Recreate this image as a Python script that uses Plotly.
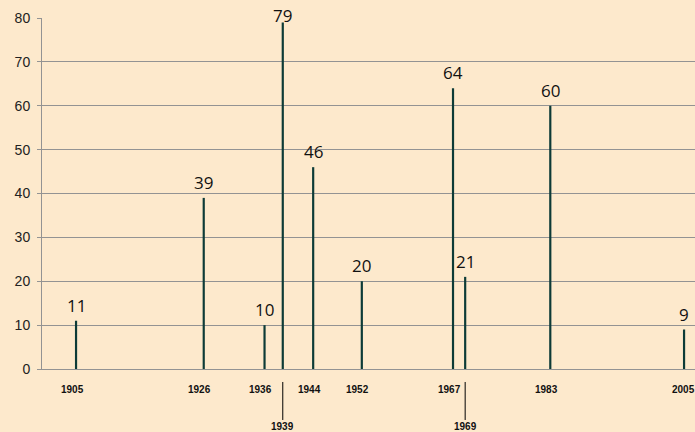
import plotly.graph_objects as go

years = [1905, 1926, 1936, 1939, 1944, 1952, 1967, 1969, 1983, 2005]
values = [11, 39, 10, 79, 46, 20, 64, 21, 60, 9]
year_labels = [str(y) for y in years]
staggered_years = [1939, 1969]
y_ticks = [0, 10, 20, 30, 40, 50, 60, 70, 80]

BG = "#fde9cc"
BAR = "#0d3b37"
GRID = "#939393"

fig = go.Figure()
fig.add_trace(go.Bar(x=years, y=values, width=0.36, marker=dict(color=BAR, line=dict(width=0)),
                     hoverinfo="x+y"))

ann = []
for yr, v in zip(years, values):
    ann.append(dict(x=yr, y=v, xref="x", yref="y", text=str(v), showarrow=False,
                    yanchor="bottom", yshift=2 if v < 75 else -7,
                    font=dict(family="Open Sans", size=17, color="#111")))
for yr, lab in zip(years, year_labels):
    if yr in staggered_years:
        ann.append(dict(x=yr, y=-0.037, xref="x", yref="paper", text="<b>%s</b>" % lab,
                        showarrow=True, arrowhead=0, arrowwidth=1, arrowcolor="#000",
                        ax=0, ay=45, standoff=0,
                        font=dict(family="Liberation Sans", size=10, color="#111")))
    else:
        ann.append(dict(x=yr, y=0, xref="x", yref="paper", text="<b>%s</b>" % lab, showarrow=False,
                        yanchor="top", yshift=-13, xshift=-4 if yr != years[-1] else -1,
                        font=dict(family="Liberation Sans", size=10, color="#111")))

fig.update_layout(
    width=695, height=432,
    margin=dict(l=42, r=0, t=18, b=63),
    paper_bgcolor=BG, plot_bgcolor=BG,
    showlegend=False,
    annotations=ann,
    xaxis=dict(range=[1899.4, 2006.8], showgrid=False, zeroline=False, showticklabels=False,
               showline=True, linecolor=GRID, linewidth=1, ticks=""),
    yaxis=dict(range=[0, 80], tickvals=y_ticks, showgrid=True, gridcolor=GRID, gridwidth=1,
               zeroline=False, showline=True, linecolor=GRID, linewidth=1,
               ticks="outside", ticklen=4, tickcolor=GRID, ticklabelstandoff=4,
               tickfont=dict(family="Liberation Sans", size=14, color="#222")),
)
fig.write_html("out.html", config={"displayModeBar": False},
               post_script="document.body.style.margin='0';document.body.style.background='%s';" % BG)
